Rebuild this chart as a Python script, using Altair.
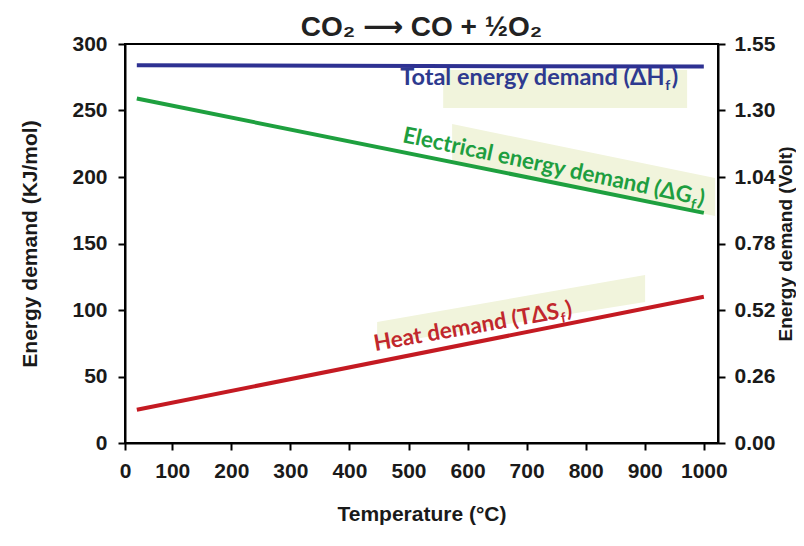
import altair as alt
import pandas as pd

# ---- data ----
temps = [40, 1000]                      # °C, start / end of each line
total_demand = [284, 283]               # ΔHf  kJ/mol
electrical_demand = [259, 173]          # ΔGf  kJ/mol
heat_demand = [25, 110]                 # TΔSf kJ/mol

series_names = ["Total", "Electrical", "Heat"]
series_colors = ["#2e3192", "#1ea03f", "#c41a22"]
text_colors = ["#2e3a8f", "#1e9e40", "#c1272d"]

y_ticks = [0, 50, 100, 150, 200, 250, 300]
volt_labels = ["0.00", "0.26", "0.52", "0.78", "1.04", "1.30", "1.55"]
x_ticks = [20, 100, 200, 300, 400, 500, 600, 700, 800, 900, 1000]
x_labels = ["0", "100", "200", "300", "400", "500", "600", "700", "800", "900", "1000"]

label_main = ["Total energy demand (ΔH", "Electrical energy demand (ΔG", "Heat demand (TΔS"]
label_sub = ["f", "f", "f"]
label_close = [")", ")", ")"]
label_anchor_T = [956.5, 998.8, 778.7]
label_anchor_v = [269.2, 178.2, 95.5]
label_angle = [0, 12, 350]
label_size = [23.5, 22.5, 22.5]

box_T = [[558.7, 971.7], [573.9, 1019.0], [446.9, 900.6]]
box_low = [[251.9, 251.9], [210.5, 170.7], [73.7, 106.0]]
box_high = [[280.5, 280.5], [239.8, 199.2], [91.0, 126.3]]

# ---- tables ----
rows = []
for name, vals in zip(series_names, [total_demand, electrical_demand, heat_demand]):
    for t, v in zip(temps, vals):
        rows.append({"series": name, "T": t, "value": v})
df_lines = pd.DataFrame(rows)

brows = []
for i, name in enumerate(series_names):
    for t, lo, hi in zip(box_T[i], box_low[i], box_high[i]):
        brows.append({"box": name, "T": t, "low": lo, "high": hi})
df_boxes = pd.DataFrame(brows)

XDOM = [20, 1024]
YDOM = [0, 300]
xscale = alt.Scale(domain=XDOM, nice=False, zero=False)
yscale = alt.Scale(domain=YDOM, nice=False)

x_label_expr = "[" + ",".join(f"'{s}'" for s in x_labels) + "][indexof([" + ",".join(str(v) for v in x_ticks) + "], datum.value)]"
volt_expr = "[" + ",".join(f"'{s}'" for s in volt_labels) + "][round(datum.value / 50)]"

x_enc = alt.X("T:Q", scale=xscale,
              axis=alt.Axis(values=x_ticks, labelExpr=x_label_expr, title="Temperature (°C)",
                            titlePadding=22, labelPadding=10, labelFlush=False))

lines = alt.Chart(df_lines).mark_line(strokeWidth=4).encode(
    x=x_enc,
    y=alt.Y("value:Q", scale=yscale,
            axis=alt.Axis(values=y_ticks, orient="left", title="Energy demand (KJ/mol)",
                          titlePadding=31, labelPadding=11)),
    color=alt.Color("series:N", scale=alt.Scale(domain=series_names, range=series_colors), legend=None),
    detail="series:N",
)

right_axis = alt.Chart(df_lines).mark_line(opacity=0).encode(
    x=alt.X("T:Q", scale=xscale),
    y=alt.Y("value:Q", scale=yscale,
            axis=alt.Axis(values=y_ticks, orient="right", labelExpr=volt_expr,
                          title="Energy demand (Volt)", titleAngle=270, titleBaseline="top",
                          titlePadding=2, labelPadding=9, titleFontSize=19)),
)

boxes = alt.Chart(df_boxes).mark_area(color="#f1f4dc", opacity=1).encode(
    x=alt.X("T:Q", scale=xscale),
    y=alt.Y("low:Q", scale=yscale, axis=None),
    y2="high:Q",
    detail="box:N",
)

text_layers = []
for i in range(3):
    dfa = pd.DataFrame({"T": [label_anchor_T[i]], "v": [label_anchor_v[i]]})
    base = alt.Chart(dfa).encode(x=alt.X("T:Q", scale=xscale), y=alt.Y("v:Q", scale=yscale, axis=None))
    common = dict(font="Lato", fontWeight="bold", color=text_colors[i], angle=label_angle[i],
                  align="right", baseline="alphabetic")
    fs = label_size[i]
    text_layers.append(base.mark_text(fontSize=fs, dx=0, **common).encode(text=alt.value(label_close[i])))
    text_layers.append(base.mark_text(fontSize=14, dx=-0.33 * fs, dy=5, **common).encode(text=alt.value(label_sub[i])))
    text_layers.append(base.mark_text(fontSize=fs, dx=-0.33 * fs - 5.8, **common).encode(text=alt.value(label_main[i])))

chart = alt.layer(boxes, lines, right_axis, *text_layers).resolve_scale(y="independent").properties(
    width=593,
    height=399,
    autosize=alt.AutoSizeParams(type="none"),
    padding={"left": 117, "top": 36, "right": 78, "bottom": 92},
    title=alt.Title("CO₂ ⟶ CO + ½O₂", fontSize=28, font="Liberation Sans, DejaVu Sans", fontWeight="bold",
                    color="#222222", baseline="alphabetic", offset=-31, anchor="middle"),
).configure_view(
    stroke="black", strokeWidth=2
).configure_axis(
    domainColor="black", domainWidth=2, tickColor="black", tickWidth=2, tickSize=7,
    labelFont="Liberation Sans", labelFontWeight="bold", labelFontSize=21, labelColor="#1a1a1a",
    titleFont="Liberation Sans", titleFontWeight="bold", titleFontSize=21, titleColor="#1a1a1a",
    grid=False,
)

chart.save("out.html", embed_options={"renderer": "svg", "actions": False})
